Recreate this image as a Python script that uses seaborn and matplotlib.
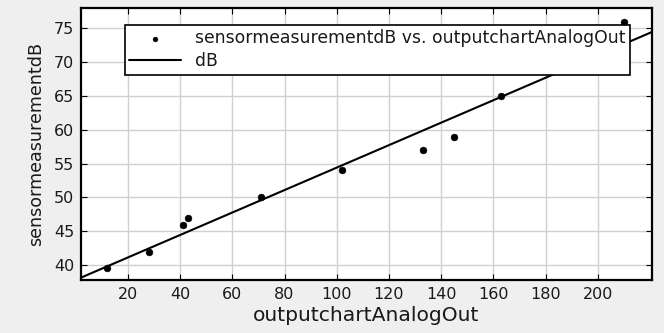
import numpy as np
import matplotlib
matplotlib.use("Agg")
import matplotlib.pyplot as plt
import pandas as pd
import seaborn as sns

# values
analog_out = [12, 28, 41, 43, 71, 102, 133, 145, 163, 210]
sensor_db = [39.5, 42, 46, 47, 50, 54, 57, 59, 65, 76]
x_ticks = [20, 40, 60, 80, 100, 120, 140, 160, 180, 200]
y_ticks = [40, 45, 50, 55, 60, 65, 70, 75]

df = pd.DataFrame({"outputchartAnalogOut": analog_out,
                   "sensormeasurementdB": sensor_db})

sns.set_style("whitegrid")
plt.rcParams['font.family'] = ['DejaVu Sans']
plt.rcParams['text.color'] = '#1a1a1a'
plt.rcParams['axes.labelcolor'] = '#1a1a1a'
plt.rcParams['xtick.labelcolor'] = '#1a1a1a'
plt.rcParams['ytick.labelcolor'] = '#1a1a1a'

fig = plt.figure(figsize=(6.64, 3.33), dpi=100, facecolor="#efefef")
ax = fig.add_axes([81 / 664, 1 - 280 / 333, (652 - 81) / 664, (280 - 8) / 333])
ax.set_facecolor("white")
ax.set_xlim(2, 220.8)
ax.set_ylim(37.8, 78)

# fitted line across full axis
sns.regplot(data=df, x="outputchartAnalogOut", y="sensormeasurementdB",
            ci=None, truncate=False, scatter=False, ax=ax,
            line_kws={"color": "black", "lw": 1.5}, label="dB")
sns.scatterplot(data=df, x="outputchartAnalogOut", y="sensormeasurementdB",
                color="black", s=24, edgecolor=None, ax=ax, zorder=3,
                label="sensormeasurementdB vs. outputchartAnalogOut")

ax.set_xticks(x_ticks)
ax.set_yticks(y_ticks)
ax.grid(True, color="#d0d0d0", lw=1)
ax.tick_params(axis="both", labelsize=11.5, direction="in", length=4,
               color="black", top=True, right=True, bottom=True, left=True,
               labeltop=False, labelright=False, pad=5)
for sp in ax.spines.values():
    sp.set_color("black")
    sp.set_linewidth(1.6)

ax.set_xlabel("outputchartAnalogOut", fontsize=14.6, labelpad=3)
ax.set_ylabel("sensormeasurementdB", fontsize=12.6, labelpad=6)

handles, labels = ax.get_legend_handles_labels()
order = [labels.index("sensormeasurementdB vs. outputchartAnalogOut"), labels.index("dB")]
leg = ax.legend([handles[i] for i in order], [labels[i] for i in order],
                loc="upper left", bbox_to_anchor=(0.077, 0.9375), fontsize=12.4,
                frameon=True, fancybox=False, framealpha=1, edgecolor="black",
                borderpad=0.25, labelspacing=0.3, handlelength=3.0,
                borderaxespad=0, markerscale=0.7)
leg.get_frame().set_linewidth(1.2)

fig.savefig("out.png", dpi=100, facecolor=fig.get_facecolor())
